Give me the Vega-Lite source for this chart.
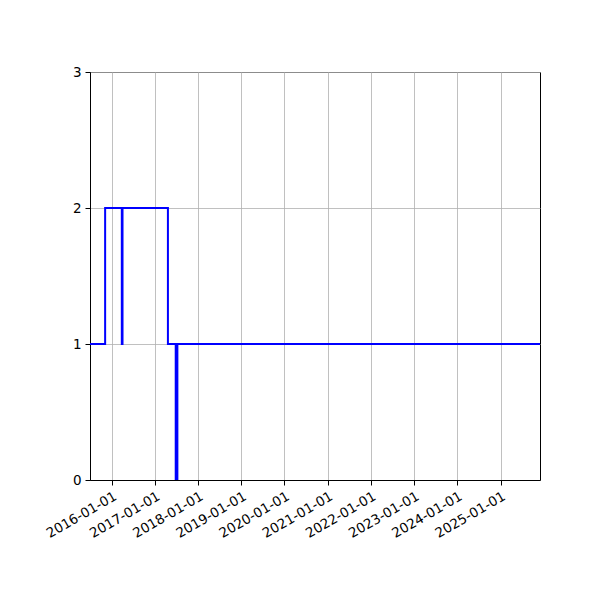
{
  "$schema": "https://vega.github.io/schema/vega-lite/v6.json",
  "width": 450,
  "height": 408,
  "autosize": {"type": "none"},
  "padding": {"left": 90, "top": 72, "right": 60, "bottom": 120},
  "background": "white",
  "config": {
    "font": "DejaVu Sans",
    "view": {"stroke": "black", "strokeWidth": 1},
    "axis": {
      "domainColor": "black",
      "domainWidth": 1,
      "tickColor": "black",
      "tickSize": 5,
      "tickWidth": 1,
      "labelColor": "black",
      "labelFontSize": 13.5,
      "labelPadding": 4,
      "gridColor": "#b0b0b0",
      "gridWidth": 0.8,
      "grid": true,
      "title": null
    }
  },
  "data": {
    "values": [
      {"date": "2015-07-01", "value": 1},
      {"date": "2015-11-06", "value": 2},
      {"date": "2016-03-26", "value": 1},
      {"date": "2016-04-01", "value": 2},
      {"date": "2017-04-20", "value": 1},
      {"date": "2017-06-25", "value": 0},
      {"date": "2017-07-09", "value": 1},
      {"date": "2025-12-01", "value": 1}
    ]
  },
  "mark": {"type": "line", "interpolate": "step-after", "color": "#0000ff", "strokeWidth": 2, "clip": true},
  "encoding": {
    "x": {
      "field": "date",
      "type": "temporal",
      "scale": {
        "type": "utc",
        "nice": false,
        "domain": [
          {"year": 2015, "month": 7, "date": 1, "utc": true},
          {"year": 2025, "month": 12, "date": 1, "utc": true}
        ]
      },
      "axis": {
        "format": "%Y-%m-%d",
        "labelAngle": -30,
        "labelAlign": "right",
        "labelBaseline": "top",
        "labelOverlap": false,
        "labelFlush": false,
        "values": [
          {"year": 2016, "month": 1, "date": 1, "utc": true},
          {"year": 2017, "month": 1, "date": 1, "utc": true},
          {"year": 2018, "month": 1, "date": 1, "utc": true},
          {"year": 2019, "month": 1, "date": 1, "utc": true},
          {"year": 2020, "month": 1, "date": 1, "utc": true},
          {"year": 2021, "month": 1, "date": 1, "utc": true},
          {"year": 2022, "month": 1, "date": 1, "utc": true},
          {"year": 2023, "month": 1, "date": 1, "utc": true},
          {"year": 2024, "month": 1, "date": 1, "utc": true},
          {"year": 2025, "month": 1, "date": 1, "utc": true}
        ]
      }
    },
    "y": {
      "field": "value",
      "type": "quantitative",
      "scale": {"domain": [0, 3], "nice": false},
      "axis": {"values": [0, 1, 2, 3], "format": "d"}
    }
  }
}
